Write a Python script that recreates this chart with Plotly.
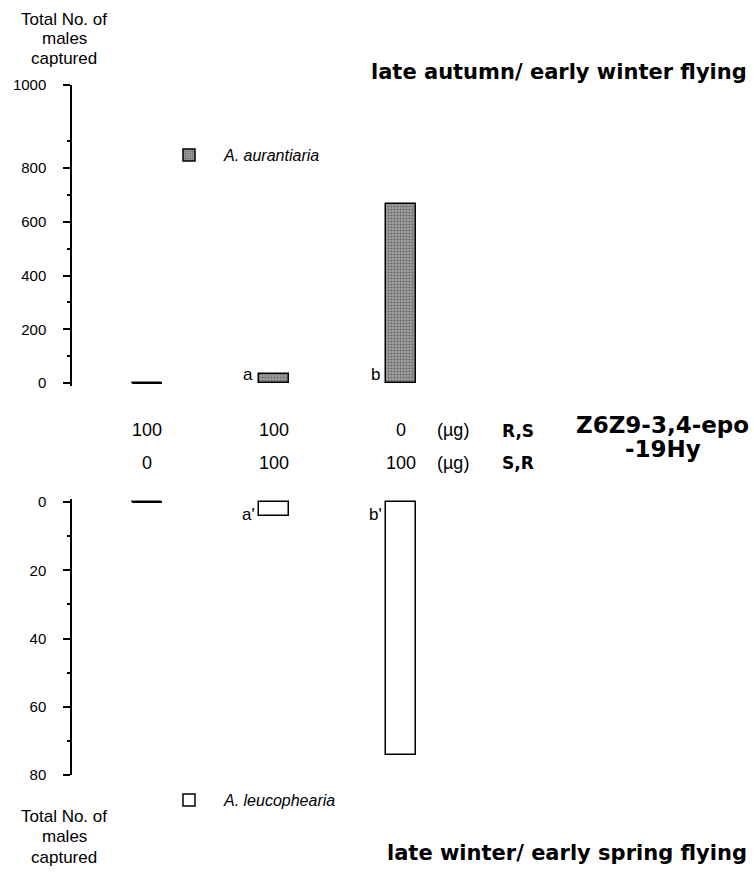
import plotly.graph_objects as go

# ---------------- data ----------------
treatments = [0, 1, 2]                 # three lure treatments
rs_dose = ["100", "100", "0"]          # R,S enantiomer dose (µg)
sr_dose = ["0", "100", "100"]          # S,R enantiomer dose (µg)

aurantiaria = [0, 32, 665]             # late autumn / early winter
leucophearia = [0, 4, 74]              # late winter / early spring

top_letters = ["", "a", "b"]
bottom_letters = ["", "a'", "b'"]

top_tick_vals = [0, 200, 400, 600, 800, 1110]
top_tick_text = ["0", "200", "400", "600", "800", "1000"]
top_minor_vals = [100, 300, 500, 700, 900]
bottom_tick_vals = [0, 20, 40, 60, 80]
bottom_minor_vals = [10, 30, 50, 70]

# ---------------- layout helpers ----------------
W, H = 754, 879
FONT = "Liberation Sans"
BOLD = "DejaVu Sans"
def py(px):
    return 1 - px / H
def pxx(px):
    return px / W

bar_w = 0.235
unit = 127.0          # px per treatment step
x0_px = 147.0         # pixel of first treatment
axis_px = 72.0
x_range = [(axis_px - x0_px) / unit, (W - x0_px) / unit]

# small padding beyond zero so the bar outlines at the baseline are not clipped
top_pad = 3 * 1110 / 298.0
bot_pad = 3 * 80 / 273.0

fig = go.Figure()

fig.add_trace(go.Bar(
    x=treatments, y=aurantiaria, width=bar_w, xaxis="x", yaxis="y",
    name="<i>A. aurantiaria</i>", legend="legend", cliponaxis=False,
    marker=dict(color="#9a9a9a", line=dict(color="black", width=1.5),
                pattern=dict(shape=".", fgcolor="#303030", bgcolor="#a0a0a0",
                             size=3, solidity=0.4)),
))
fig.add_trace(go.Bar(
    x=treatments, y=leucophearia, width=bar_w, xaxis="x2", yaxis="y2",
    name="<i>A. leucophearia</i>", legend="legend2", cliponaxis=False,
    marker=dict(color="white", line=dict(color="black", width=1.5)),
))

annotations = []
# zero-valued treatments drawn as a flat line at the value
for xs, vals, xr, yr in [(treatments, aurantiaria, "x", "y"),
                         (treatments, leucophearia, "x2", "y2")]:
    for x, v in zip(xs, vals):
        if v == 0:
            fig.add_trace(go.Scatter(
                x=[x - bar_w / 2, x + bar_w / 2], y=[v, v], xaxis=xr, yaxis=yr,
                mode="lines", line=dict(color="black", width=2),
                cliponaxis=False, showlegend=False, hoverinfo="skip"))

for x, t in zip(treatments, top_letters):
    if t:
        annotations.append(dict(x=x - bar_w / 2, y=0, xref="x", yref="y",
                                text=t, showarrow=False, xanchor="right",
                                yanchor="bottom", xshift=-4, yshift=-3,
                                font=dict(family=FONT, size=17, color="black")))
for x, t in zip(treatments, bottom_letters):
    if t:
        annotations.append(dict(x=x - bar_w / 2, y=0, xref="x2", yref="y2",
                                text=t, showarrow=False, xanchor="right",
                                yanchor="top", xshift=-2, yshift=-1,
                                font=dict(family=FONT, size=17, color="black")))

# dose rows
for x, a, b in zip(treatments, rs_dose, sr_dose):
    annotations.append(dict(x=x, y=py(430), xref="x", yref="paper", text=a,
                            showarrow=False, xanchor="center", yanchor="middle",
                            font=dict(family=FONT, size=18, color="black")))
    annotations.append(dict(x=x, y=py(463), xref="x", yref="paper", text=b,
                            showarrow=False, xanchor="center", yanchor="middle",
                            font=dict(family=FONT, size=18, color="black")))

def txt(x, y, s, size=16, family=FONT, anchor="center", color="black"):
    annotations.append(dict(x=pxx(x), y=py(y), xref="paper", yref="paper",
                            text=s, showarrow=False, xanchor=anchor,
                            yanchor="middle", font=dict(family=family, size=size, color=color)))

txt(453, 430, "(µg)", 18)
txt(453, 463, "(µg)", 18)
txt(518, 431, "<b>R,S</b>", 17, BOLD)
txt(518, 463, "<b>S,R</b>", 17, BOLD)
txt(662, 425, "<b>Z6Z9-3,4-epo</b>", 23, BOLD)
txt(663, 449, "<b>-19Hy</b>", 23, BOLD)

txt(64, 20, "Total No. of", 17)
txt(64, 39, "males", 17)
txt(64, 59, "captured", 17)
txt(64, 816, "Total No. of", 17)
txt(64, 836, "males", 17)
txt(64, 857, "captured", 17)

txt(749, 72, "<b>late autumn/ early winter flying</b>", 21, BOLD, "right")
txt(749, 853, "<b>late winter/ early spring flying</b>", 21, BOLD, "right")

axis_common = dict(showline=True, linecolor="black", linewidth=1.5,
                   ticks="outside", ticklen=7, tickwidth=1.5, tickcolor="black",
                   showgrid=False, zeroline=False, automargin=False,
                   tickfont=dict(family=FONT, size=15, color="black"),
                   ticklabelstandoff=14)

fig.update_layout(
    width=W, height=H,
    margin=dict(l=0, r=0, t=0, b=0, pad=0, autoexpand=False),
    paper_bgcolor="white", plot_bgcolor="rgba(0,0,0,0)",
    bargap=0, showlegend=True,
    xaxis=dict(domain=[pxx(axis_px), 1], range=x_range, visible=False,
               anchor="y", automargin=False),
    xaxis2=dict(domain=[pxx(axis_px), 1], range=x_range, visible=False,
                anchor="y2", automargin=False),
    yaxis=dict(domain=[py(386), py(85)], range=[-top_pad, 1110], anchor="x",
               tickvals=top_tick_vals, ticktext=top_tick_text,
               minor=dict(tickvals=top_minor_vals, ticklen=3, tickwidth=1.5,
                          tickcolor="black", ticks="outside", showgrid=False),
               **axis_common),
    yaxis2=dict(domain=[py(775), py(499)], range=[80, -bot_pad], anchor="x2",
                tickvals=bottom_tick_vals,
                minor=dict(tickvals=bottom_minor_vals, ticklen=3, tickwidth=1.5,
                           tickcolor="black", ticks="outside", showgrid=False),
                **axis_common),
    legend=dict(x=pxx(154), y=py(155), xanchor="left", yanchor="middle",
                bgcolor="rgba(0,0,0,0)", itemwidth=60,
                font=dict(family=FONT, size=16, color="black")),
    legend2=dict(x=pxx(154), y=py(800), xanchor="left", yanchor="middle",
                 bgcolor="rgba(0,0,0,0)", itemwidth=60,
                 font=dict(family=FONT, size=16, color="black")),
    annotations=annotations,
)

fig.write_html(
    "out.html",
    config={"displayModeBar": False},
    post_script="document.body.style.margin='0';document.body.style.overflow='hidden';",
)
